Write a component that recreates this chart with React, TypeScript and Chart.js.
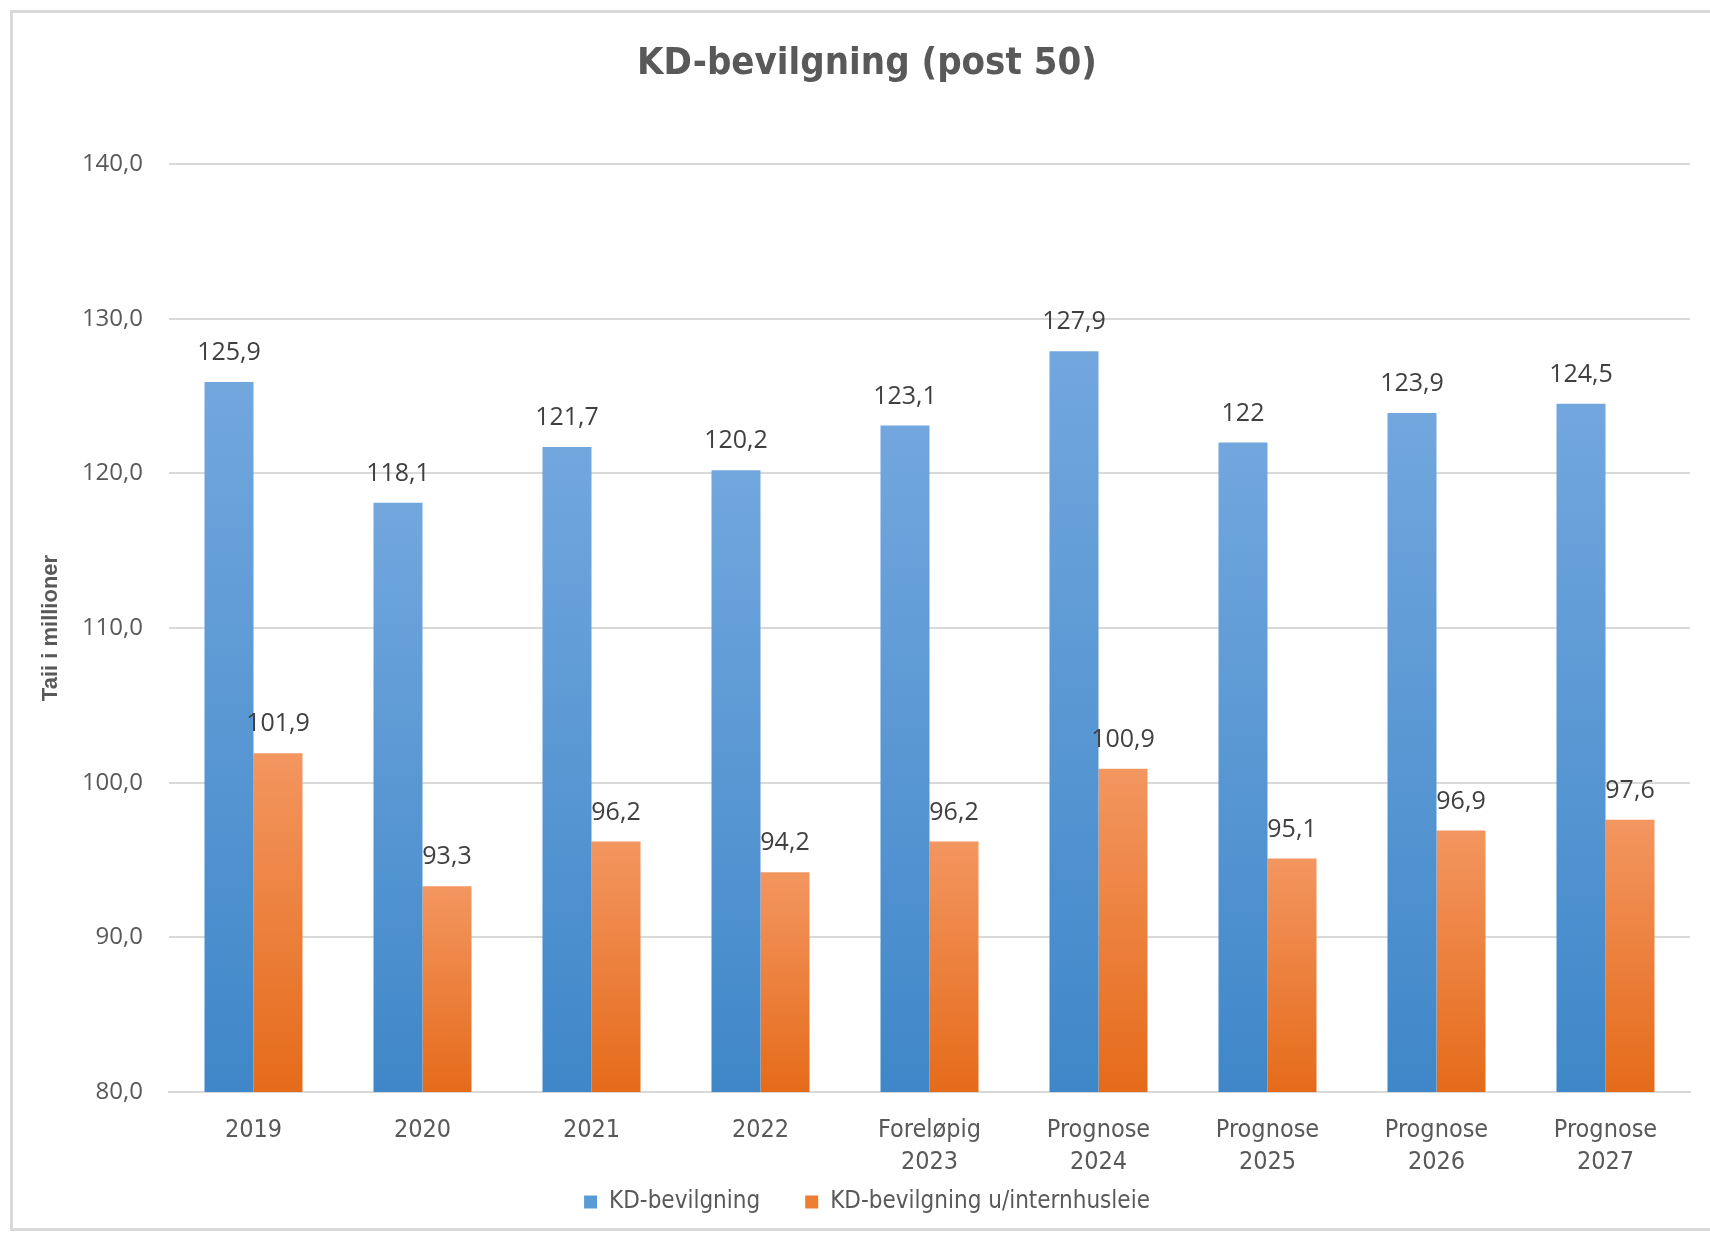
import React, { useEffect, useRef } from "react";
import { Chart, registerables } from "chart.js";

Chart.register(...registerables);

const categories: (string | string[])[] = [
  "2019",
  "2020",
  "2021",
  "2022",
  ["Foreløpig", "2023"],
  ["Prognose", "2024"],
  ["Prognose", "2025"],
  ["Prognose", "2026"],
  ["Prognose", "2027"],
];
const kdBevilgning = [125.9, 118.1, 121.7, 120.2, 123.1, 127.9, 122, 123.9, 124.5];
const kdUtenHusleie = [101.9, 93.3, 96.2, 94.2, 96.2, 100.9, 95.1, 96.9, 97.6];
const seriesNames = ["KD-bevilgning", "KD-bevilgning u/internhusleie"];
const yMin = 80;
const yMax = 140;
const yStep = 10;

const narrow = "'Liberation Sans Narrow', 'DejaVu Sans Condensed', sans-serif";

const fmt = (v: number) => String(v).replace(".", ",");

function barGradient(ctx: any, top: string, bottom: string) {
  const chart = ctx.chart;
  const yScale = chart.scales?.y;
  if (!yScale || ctx.type !== "data" || ctx.parsed == null) return bottom;
  const yTop = yScale.getPixelForValue(ctx.parsed.y);
  const yBot = yScale.getPixelForValue(yMin);
  if (!isFinite(yTop) || !isFinite(yBot) || yTop === yBot) return bottom;
  const g = chart.ctx.createLinearGradient(0, yTop, 0, yBot);
  g.addColorStop(0, top);
  g.addColorStop(1, bottom);
  return g;
}

const valueLabels = {
  id: "valueLabels",
  afterDatasetsDraw(chart: any) {
    const { ctx } = chart;
    ctx.save();
    ctx.font = "25px 'Open Sans'";
    ctx.fillStyle = "#404040";
    ctx.textAlign = "center";
    ctx.textBaseline = "middle";
    chart.data.datasets.forEach((ds: any, di: number) => {
      const meta = chart.getDatasetMeta(di);
      meta.data.forEach((bar: any, i: number) => {
        ctx.fillText(fmt(ds.data[i]), bar.x, bar.y - 29);
      });
    });
    ctx.restore();
  },
};

export default function App() {
  const ref = useRef<HTMLCanvasElement | null>(null);

  useEffect(() => {
    document.body.style.margin = "0";
    if (!ref.current) return;
    const chart = new Chart(ref.current, {
      type: "bar",
      data: {
        labels: categories,
        datasets: [
          {
            label: seriesNames[0],
            data: kdBevilgning,
            backgroundColor: (c: any) => barGradient(c, "#72a7de", "#3f87c8"),
            borderWidth: 0,
          },
          {
            label: seriesNames[1],
            data: kdUtenHusleie,
            backgroundColor: (c: any) => barGradient(c, "#f39660", "#e56b1a"),
            borderWidth: 0,
          },
        ],
      },
      options: {
        animation: false,
        responsive: false,
        maintainAspectRatio: false,
        devicePixelRatio: 1,
        layout: { padding: { left: 44, right: 20, top: 0, bottom: 12 } },
        datasets: {
          bar: { categoryPercentage: 0.58, barPercentage: 1 },
        },
        plugins: {
          title: {
            display: true,
            text: "KD-bevilgning (post 50)",
            color: "#595959",
            font: { family: narrow, size: 38, weight: "bold", lineHeight: 1.2 },
            padding: { top: 41, bottom: 77.4 },
          },
          legend: {
            position: "bottom",
            labels: {
              boxWidth: 13,
              boxHeight: 13,
              padding: 45,
              color: "#595959",
              font: { family: narrow, size: 24 },
              generateLabels: (ch: any) =>
                ch.data.datasets.map((ds: any, i: number) => ({
                  text: ds.label,
                  fillStyle: i === 0 ? "#5b9bd5" : "#ed7d31",
                  strokeStyle: i === 0 ? "#5b9bd5" : "#ed7d31",
                  lineWidth: 0,
                  fontColor: "#595959",
                  datasetIndex: i,
                  hidden: false,
                })),
            },
          },
          tooltip: { enabled: false },
        },
        scales: {
          x: {
            grid: { display: false, drawTicks: false },
            border: { display: true, color: "#d9d9d9", width: 2 },
            ticks: {
              color: "#595959",
              padding: 22,
              maxRotation: 0,
              autoSkip: false,
              font: { family: narrow, size: 25, lineHeight: 1.3 },
            },
            afterFit: (s: any) => {
              s.height = 53;
              // let the two-line category labels run below the scale box
              s._computeLabelArea = () => undefined;
            },
          },
          y: {
            min: yMin,
            max: yMax,
            grid: { color: "#d9d9d9", lineWidth: 2, drawTicks: false },
            border: { display: false },
            ticks: {
              stepSize: yStep,
              padding: 26,
              color: "#595959",
              font: { family: "'Open Sans', sans-serif", size: 24 },
              callback: (v: any) => Number(v).toFixed(1).replace(".", ","),
            },
            title: {
              display: true,
              text: "Taii i millioner",
              color: "#595959",
              font: { family: "'Liberation Sans', sans-serif", size: 22, weight: "bold" },
              padding: { top: -6, bottom: 0 },
            },
            afterFit: (s: any) => {
              s.width = 125;
            },
          },
        },
      },
      plugins: [valueLabels],
    });
    return () => chart.destroy();
  }, []);

  return (
    <div style={{ position: "relative", width: 1710, height: 1236, overflow: "hidden", background: "#fff" }}>
      <div
        style={{
          position: "absolute",
          left: 10,
          top: 10,
          width: 1720,
          height: 1221,
          border: "3px solid #d9d9d9",
          boxSizing: "border-box",
        }}
      />
      <canvas ref={ref} width={1710} height={1236} style={{ position: "absolute", left: 0, top: 0, width: 1710, height: 1236 }} />
    </div>
  );
}
